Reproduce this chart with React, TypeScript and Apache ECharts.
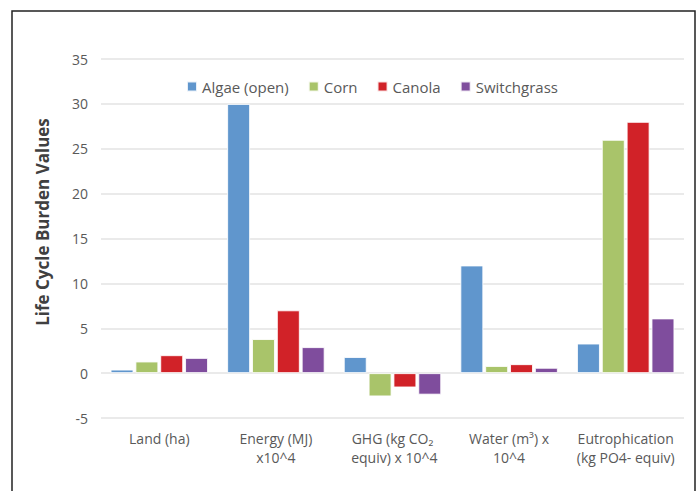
import React, { useEffect, useRef } from "react";
import * as echarts from "echarts";

const categories = [
  "Land (ha)",
  "Energy (MJ)\nx10^4",
  "GHG (kg CO₂\n equiv) x 10^4",
  "Water (m³) x\n10^4",
  "Eutrophication\n(kg PO4- equiv)",
];
const seriesNames = ["Algae (open)", "Corn", "Canola", "Switchgrass"];
const algae = [0.4, 30, 1.8, 12, 3.3];
const corn = [1.3, 3.8, -2.6, 0.8, 26];
const canola = [2.0, 7.0, -1.6, 1.0, 28];
const switchgrass = [1.7, 2.9, -2.4, 0.6, 6.1];
const colors = ["#6096cd", "#a9c46a", "#d12228", "#7f4d9d"];
const yTitle = "Life Cycle Burden Values";
const FONT = "Open Sans";

export default function App() {
  const ref = useRef<HTMLDivElement>(null);
  useEffect(() => {
    if (!ref.current) return;
    const chart = echarts.init(ref.current, undefined, { renderer: "svg" });
    const values = [algae, corn, canola, switchgrass];
    chart.setOption({
      animation: false,
      backgroundColor: "#ffffff",
      textStyle: { fontFamily: FONT },
      graphic: [
        {
          type: "rect",
          shape: { x: 12, y: 11, width: 683, height: 495 },
          style: { fill: "none", stroke: "#222", lineWidth: 1.5 },
          silent: true,
        },
        {
          type: "text",
          x: 42,
          y: 222,
          rotation: Math.PI / 2,
          style: {
            text: yTitle,
            fontFamily: FONT,
            fontSize: 17,
            fontWeight: "bold",
            fill: "#404040",
            align: "center",
            verticalAlign: "middle",
          },
          silent: true,
        },
      ],
      legend: {
        left: 181,
        top: 74,
        itemWidth: 10,
        itemHeight: 10,
        itemGap: 19,
        icon: "rect",
        textStyle: { fontFamily: FONT, fontSize: 15, color: "#595959" },
        data: seriesNames,
      },
      grid: { left: 101, right: 15, top: 59, bottom: 73, containLabel: false },
      xAxis: {
        type: "category",
        data: categories,
        position: "bottom",
        axisLine: { show: false, onZero: false },
        axisTick: { show: false },
        axisLabel: {
          interval: 0,
          margin: 11,
          color: "#595959",
          fontSize: 14,
          lineHeight: 19,
          fontFamily: FONT,
        },
      },
      yAxis: {
        type: "value",
        min: -5,
        max: 35,
        interval: 5,
        axisLine: { show: false },
        axisTick: { show: false },
        axisLabel: { color: "#595959", fontSize: 14, margin: 13, fontFamily: FONT },
        splitLine: { lineStyle: { color: "#e3e3e3", width: 1.5 } },
      },
      series: seriesNames.map((name, i) => ({
        name,
        type: "bar",
        data: values[i],
        barWidth: 23,
        barGap: "8%",
        itemStyle: { color: colors[i], borderColor: "rgba(255,255,255,0.85)", borderWidth: 1 },
      })),
    });
    return () => chart.dispose();
  }, []);
  return (
    <div
      ref={ref}
      style={{ position: "fixed", left: 0, top: 0, width: 699, height: 491 }}
    />
  );
}
